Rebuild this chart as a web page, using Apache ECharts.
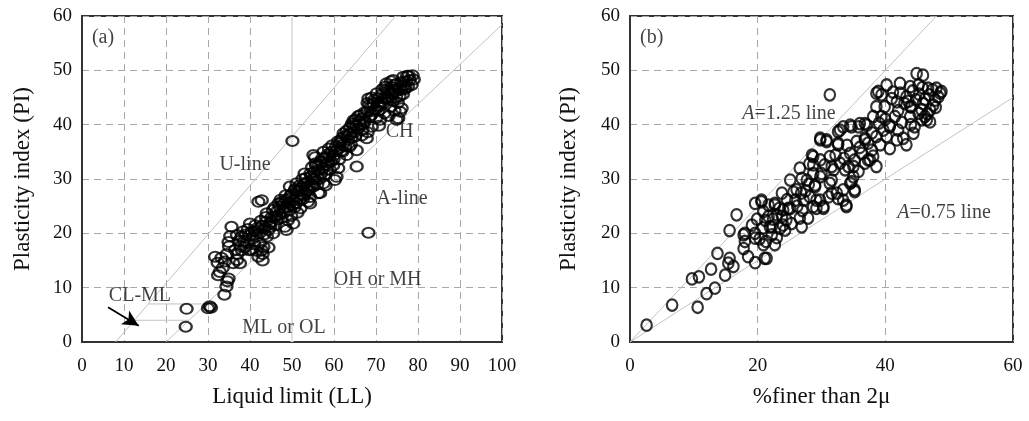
<!DOCTYPE html>
<html><head><meta charset="utf-8">
<script src="https://cdn.jsdelivr.net/npm/echarts@6/dist/echarts.min.js"></script>
<style>html,body{margin:0;padding:0;background:#fff}#c{width:1029px;height:421px}</style>
</head><body><div id="c"></div>
<script>
// ---- Panel (a): Liquid limit vs Plasticity index ----
const pointsA = [
[24.7,2.8],[24.9,6.1],[30.0,6.2],[30.4,6.6],[30.7,6.3],[33.9,8.7],[34.4,10.2],[34.9,11.7],[34.6,11.2],[33.5,13.6],
[33.2,15.5],[32.4,12.3],[32.8,12.9],[31.7,15.7],[32.3,14.6],[34.0,14.8],[34.5,16.2],[35.6,21.2],[34.9,18.4],[35.3,19.5],
[35.0,17.6],[36.0,14.5],[36.9,15.1],[37.6,14.5],[38.1,16.9],[38.8,17.5],[39.8,16.9],[37.3,18.6],[38.0,19.4],[36.5,17.0],
[39.0,19.8],[39.5,20.8],[40.0,21.8],[40.4,20.3],[41.0,18.0],[41.6,19.4],[42.4,18.2],[42.8,16.9],[42.0,15.7],[43.0,15.0],
[43.0,16.2],[43.2,17.5],[44.0,19.4],[44.4,20.6],[44.4,17.4],[45.5,20.0],[42.0,25.8],[42.8,26.1],[41.3,21.5],[42.6,22.3],
[43.5,21.0],[43.8,23.0],[44.0,23.7],[45.5,24.3],[45.0,22.0],[46.0,21.5],[46.3,23.2],[46.8,25.5],[47.1,24.9],[47.5,22.8],
[48.3,21.2],[48.0,23.8],[48.7,20.6],[48.9,25.0],[49.5,24.3],[49.2,26.4],[49.5,28.6],[50.3,26.1],[50.3,21.8],[50.0,27.3],
[50.6,24.8],[51.1,29.2],[51.0,25.6],[51.5,27.8],[51.9,26.1],[52.3,28.4],[52.5,30.0],[52.0,24.6],[52.8,27.0],[53.1,27.4],
[53.4,29.3],[53.0,31.0],[53.8,25.8],[54.3,26.7],[54.3,25.5],[54.0,28.8],[54.6,30.5],[54.8,32.2],[55.1,28.6],[55.1,34.4],
[55.5,34.0],[55.3,31.3],[55.9,30.4],[56.0,29.0],[56.3,27.4],[56.7,27.4],[56.4,32.6],[56.9,31.0],[57.2,33.8],[57.5,29.2],
[57.8,30.8],[58.0,32.6],[58.3,31.7],[58.5,34.5],[58.8,35.6],[59.0,31.7],[59.3,33.2],[59.6,36.2],[60.2,29.8],[60.0,34.4],
[60.6,30.4],[60.4,35.1],[60.9,36.9],[61.2,33.6],[61.4,36.6],[61.8,35.2],[62.0,37.6],[62.3,38.4],[62.6,36.0],[63.0,34.4],
[63.0,38.9],[63.4,37.2],[63.8,39.5],[64.0,36.3],[64.3,40.2],[64.6,39.9],[65.0,37.8],[65.4,32.3],[65.4,35.3],[65.2,41.0],
[65.7,39.2],[66.0,40.6],[66.3,41.8],[66.6,38.0],[67.0,40.1],[67.3,42.3],[67.8,37.5],[68.2,44.8],[68.0,44.0],[68.2,20.1],
[68.5,41.4],[68.7,43.1],[69.0,39.6],[69.3,42.5],[69.6,44.6],[70.0,41.2],[70.2,45.8],[70.4,43.5],[70.7,39.8],[71.0,40.9],
[71.2,44.2],[71.5,46.5],[71.7,43.9],[72.0,42.1],[72.2,47.0],[72.5,47.6],[72.8,44.8],[73.0,41.6],[73.3,45.8],[73.5,43.3],
[73.8,46.9],[74.1,48.2],[74.0,44.4],[74.4,42.6],[74.7,46.1],[74.9,40.9],[75.0,47.5],[75.3,41.2],[75.7,42.4],[75.6,45.2],
[76.1,43.0],[76.0,47.8],[76.5,48.8],[76.8,46.5],[77.2,48.0],[77.6,47.0],[77.8,49.0],[78.5,47.3],[78.7,49.1],[79.0,48.3],
[44.8,21.2],[45.8,23.0],[46.6,22.6],[47.3,26.2],[47.9,25.4],[48.5,27.0],[49.0,22.4],[49.8,23.2],[50.8,28.2],[51.3,23.8],
[52.6,26.3],[53.6,27.9],[54.6,29.0],[55.8,32.5],[56.6,30.0],[57.5,35.0],[58.0,28.8],[59.8,32.5],[61.0,32.0],[62.0,35.0],
[63.6,35.9],[64.8,38.6],[66.8,39.0],[68.0,38.6],[69.0,45.0],[70.6,42.6],[72.6,45.0],[73.6,48.0],[75.2,44.0],[76.4,45.6],
[50.1,37.0],
[45.2,23.0],[45.9,24.8],[46.4,24.0],[47.0,23.5],[47.6,25.8],[48.2,24.6],[48.6,26.2],[49.1,25.6],[49.7,27.0],[50.2,25.2],
[50.7,27.9],[51.3,26.8],[51.8,28.8],[52.2,27.2],[52.9,29.0],[53.3,30.2],[53.9,28.0],[54.4,31.0],[54.9,29.9],[55.4,30.0],
[55.6,32.9],[56.2,31.6],[56.8,33.2],[57.3,32.0],[57.9,33.9],[58.4,33.0],[58.9,34.2],[59.4,35.0],[59.9,33.7],[60.5,36.0],
[61.0,35.5],[61.6,37.0],[62.1,36.3],[62.7,38.0],[63.2,37.8],[63.7,38.3],[64.2,37.6],[64.7,40.8],[65.3,39.8],[65.8,41.6],
[66.2,40.0],[66.8,41.2],[67.3,40.6],[67.9,42.4],[68.4,43.6],[68.9,41.8],[69.4,43.9],[69.9,42.8],[70.4,44.8],[70.9,43.4],
[71.4,45.6],[71.9,44.8],[72.4,46.4],[72.9,46.2],[73.4,44.6],[73.9,45.7],[74.4,47.4],[74.8,45.0],[75.4,46.6],[75.9,46.4],
[76.6,47.2],[77.0,46.8],[77.4,49.0],[78.0,48.2],
[37.0,16.2],[37.8,17.6],[38.5,18.6],[39.2,18.2],[39.9,19.6],[40.6,19.0],[41.2,20.4],[41.8,21.0],[42.2,20.0],[42.9,21.4],
[43.4,19.8],[43.9,22.2],[44.6,21.8],[40.3,17.0],[41.5,16.8],[38.4,20.4],[36.9,19.7]
];
const uLineA = [[8,0],[74.67,60]];
const aLineA = [[20,0],[100,58.4]];
const clml7A = [[15.8,7],[29.6,7]];
const clml4A = [[12.4,4],[25.5,4]];
const ll50A = [[50,0],[50,60]];
const arrowA = [[6.2,6.4],[13.5,3.0]];
const labelsA = [["(a)",5.0,56.0],["U-line",38.8,32.6],["CH",75.6,38.7],["A-line",76.2,26.3],
  ["OH or MH",70.4,11.4],["ML or OL",48.1,2.6],["CL-ML",13.8,8.5]];

// ---- Panel (b): %finer than 2 micron vs Plasticity index ----
const pointsB = [
[2.6,3.1],[6.6,6.8],[10.6,6.4],[9.7,11.6],[10.8,12.0],[12.0,8.9],[13.3,9.9],[12.7,13.4],[13.7,16.3],[14.9,12.3],
[15.6,15.4],[15.4,14.5],[16.2,13.9],[15.6,20.5],[16.7,23.4],[17.8,19.7],[18.0,18.5],[17.8,17.2],[18.5,15.7],[19.6,14.6],
[19.1,21.5],[19.6,25.5],[20.6,26.1],[21.7,25.2],[22.7,25.2],[19.6,19.1],[21.1,15.4],[22.7,17.9],[21.7,23.1],[21.9,21.2],
[22.2,19.7],[23.0,23.4],[23.5,20.9],[24.0,24.3],[24.5,22.5],[25.1,24.6],[25.9,26.1],[26.6,22.8],[26.9,21.2],[26.1,28.0],
[26.9,30.1],[25.1,29.8],[23.8,27.4],[28.2,26.7],[28.7,24.9],[29.0,28.9],[30.0,31.0],[29.8,26.1],[30.3,24.6],[31.3,29.2],
[31.6,27.4],[31.9,31.7],[32.6,26.4],[28.7,34.1],[29.8,33.5],[31.3,45.5],[29.8,37.2],[30.8,37.2],[32.6,36.6],[32.9,39.0],
[34.5,39.9],[36.0,40.2],[31.3,34.1],[31.6,32.3],[32.9,32.9],[33.7,31.7],[34.5,34.7],[35.2,33.5],[35.0,30.4],[34.5,29.2],
[33.4,28.0],[32.4,27.4],[31.6,29.8],[29.8,30.4],[28.7,31.0],[29.0,28.6],[27.7,29.8],[27.2,26.1],[29.2,26.1],[30.3,24.9],
[31.1,26.7],[33.4,26.1],[33.9,25.2],[35.2,28.0],[35.0,32.3],[26.8,27.4],[26.6,32.0],[28.5,34.4],[20.9,24.0],[20.9,17.9],
[21.4,15.4],[22.2,21.2],[24.3,20.6],[24.8,24.6],[25.3,21.8],[27.9,22.8],[29.2,24.6],[40.2,47.3],[42.3,47.6],[43.9,47.0],
[45.2,47.3],[46.7,46.7],[48.0,46.7],[48.8,46.1],[48.3,45.1],[47.5,43.6],[46.5,40.9],[47.0,42.7],[45.9,43.9],[45.2,42.1],
[44.6,39.6],[43.9,43.3],[43.3,45.1],[42.3,45.8],[41.8,44.2],[41.5,41.5],[40.7,39.6],[39.9,43.3],[39.4,45.5],[38.6,45.8],
[38.6,43.3],[39.4,41.5],[39.7,39.0],[38.6,37.8],[37.1,39.9],[36.8,37.2],[37.9,35.3],[39.2,36.3],[40.7,35.6],[41.8,37.2],
[43.3,36.3],[37.6,33.5],[38.6,32.3],[36.8,32.9],[36.3,34.7],[44.9,49.4],[45.9,49.1],[33.4,39.6],[34.7,39.6],[35.8,39.6],
[36.8,40.2],[36.8,37.5],[38.9,46.1],[38.1,41.5],[40.2,37.8],[40.7,39.9],[42.8,37.5],[44.1,43.3],[43.9,41.5],[44.4,38.4],
[45.7,42.7],[45.7,40.9],[46.2,41.5],[47.8,44.5],[48.6,45.8],[47.0,40.5],[32.6,38.7],[32.6,36.3],[30.8,36.9],[29.8,37.5],
[28.7,32.6],[34.2,32.3],[35.2,27.7],[34.7,29.5],[33.9,24.9],[23.8,23.1],[22.7,25.5],[19.6,20.0],[20.6,25.8],[18.0,20.0],
[20.3,19.0],[21.3,18.5],[20.8,21.0],
[41.0,44.8],[41.2,46.0],[42.0,42.6],[42.6,40.4],[43.0,43.9],[43.6,44.3],[44.3,46.2],[44.8,44.6],[45.3,45.6],[45.8,46.8],
[46.2,44.7],[46.9,45.5],[47.4,46.4],[47.9,43.2],[46.6,42.0],[44.0,40.0],[42.0,39.0],[40.0,41.0],[39.0,40.3],[37.9,38.5],
[37.3,36.6],[38.1,34.2],[36.0,35.8],[35.5,36.9],[34.0,36.2],[33.5,33.8],[32.2,34.4],[30.5,32.6],[27.5,27.8],[26.2,25.0],
[25.6,27.6],[24.6,26.2],[23.4,24.6],[22.4,22.6],[21.2,22.4],[19.9,22.6],[23.0,19.2],[24.0,21.5],[27.0,24.2],[28.0,29.0],
[28.1,32.8],[35.8,31.4],[37.3,33.5]
];
const line125B = [[0,0],[48,60]];
const line075B = [[0,0],[60,45]];
const labelsB = [["(b)",3.4,56.0],["{i|A}=1.25 line",24.9,42.1],["{i|A}=0.75 line",49.2,23.7]];

const FONT = "'Liberation Serif','Times New Roman',serif";
const TXT = '#111';
const chart = echarts.init(document.getElementById('c'));

function refLine(data, xi, color, width) {
  return {type:'line', xAxisIndex:xi, yAxisIndex:xi, data:data, symbol:'none', silent:true,
    lineStyle:{color:color||'#c2c2c2', width:width||1}, z:2, animation:false};
}
function scatter(data, xi, size) {
  return {type:'scatter', xAxisIndex:xi, yAxisIndex:xi, data:data, symbol:'circle', symbolSize:size,
    itemStyle:{color:'rgba(0,0,0,0)', borderColor:'#000', borderWidth:2.2}, z:5, silent:true, animation:false};
}
function labels(list, xi, extra) {
  const s = {type:'scatter', xAxisIndex:xi, yAxisIndex:xi, symbolSize:0, silent:true, z:10, animation:false,
    data:list.map(l => ({value:[l[1], l[2]], name:l[0]})),
    label:{show:true, position:'inside', formatter:p => p.name, color:TXT, fontFamily:FONT, fontSize:20,
      rich:{i:{fontStyle:'italic', fontFamily:FONT, fontSize:20, color:TXT}}}};
  return Object.assign(s, extra||{});
}
function xAxis(gi, max, interval, name, gap) {
  return {type:'value', gridIndex:gi, min:0, max:max, interval:interval, name:name, nameLocation:'middle', nameGap:gap,
    nameTextStyle:{fontFamily:FONT, fontSize:23, color:TXT},
    axisLine:{show:true, lineStyle:{color:'#333', width:2}}, axisTick:{show:false},
    axisLabel:{fontFamily:FONT, fontSize:19, color:TXT, margin:15},
    splitLine:{show:true, lineStyle:{color:'#a8a8a8', type:[7,5], width:1}}};
}
function yAxis(gi, name, gap) {
  return {type:'value', gridIndex:gi, min:0, max:60, interval:10, name:name, nameLocation:'middle', nameGap:gap,
    nameTextStyle:{fontFamily:FONT, fontSize:23, color:TXT},
    axisLine:{show:true, lineStyle:{color:'#333', width:2}}, axisTick:{show:false},
    axisLabel:{fontFamily:FONT, fontSize:19, color:TXT, margin:10},
    splitLine:{show:true, lineStyle:{color:'#a8a8a8', type:[7,5], width:1}}};
}

chart.setOption({
  animation:false,
  backgroundColor:'#fff',
  grid:[
    {left:82, top:16, width:420, height:326, show:true, borderColor:'#333', borderWidth:2, backgroundColor:'transparent'},
    {left:630, top:16, width:383, height:326, show:true, borderColor:'#333', borderWidth:2, backgroundColor:'transparent'}
  ],
  xAxis:[xAxis(0,100,10,'Liquid limit (LL)',43), xAxis(1,60,20,'%finer than 2\u03bc',43)],
  yAxis:[yAxis(0,'Plasticity index (PI)',48), yAxis(1,'Plasticity index (PI)',50)],
  series:[
    refLine(ll50A,0,'#ffffff',3),
    refLine(ll50A,0,'#c2c2c2',1),
    refLine(uLineA,0),
    refLine(aLineA,0),
    refLine(clml7A,0),
    refLine(clml4A,0),
    scatter(pointsA,0,[12,10]),
    labels(labelsA,0,{markLine:{silent:true, symbol:['none','arrow'], symbolSize:[12,16], animation:false,
      label:{show:false}, lineStyle:{color:'#000', width:1.8, type:'solid'},
      data:[[{coord:arrowA[0]},{coord:arrowA[1]}]]}}),
    refLine(line125B,1),
    refLine(line075B,1),
    scatter(pointsB,1,[10.5,11.5]),
    labels(labelsB,1)
  ]
});
</script></body></html>
